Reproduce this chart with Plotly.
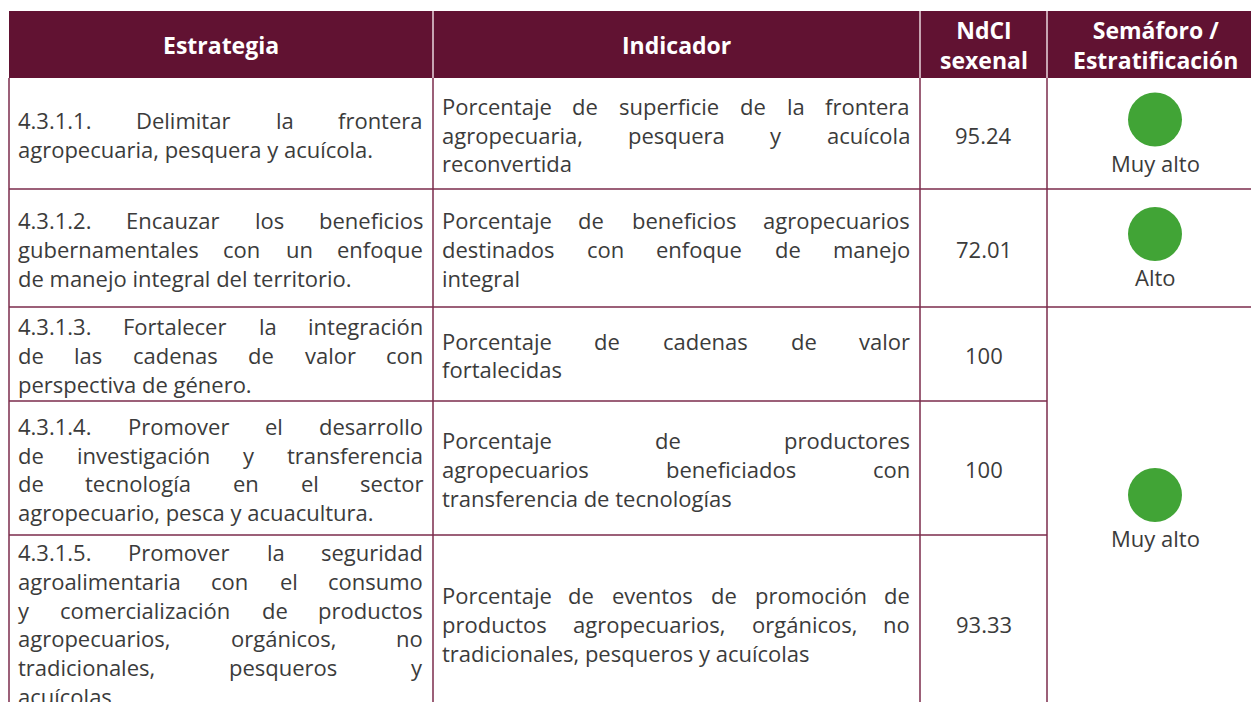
import plotly.graph_objects as go

# ---------------- data ----------------
headers = ["Estrategia", "Indicador", "NdCI<br>sexenal", "Semáforo /<br>Estratificación"]

estrategias = [
    ["4.3.1.1. Delimitar la frontera", "agropecuaria, pesquera y acuícola."],
    ["4.3.1.2. Encauzar los beneficios", "gubernamentales con un enfoque",
     "de manejo integral del territorio."],
    ["4.3.1.3. Fortalecer la integración", "de las cadenas de valor con",
     "perspectiva de género."],
    ["4.3.1.4. Promover el desarrollo", "de investigación y transferencia",
     "de tecnología en el sector", "agropecuario, pesca y acuacultura."],
    ["4.3.1.5. Promover la seguridad", "agroalimentaria con el consumo",
     "y comercialización de productos", "agropecuarios, orgánicos, no",
     "tradicionales, pesqueros y", "acuícolas."],
]

indicadores = [
    ["Porcentaje de superficie de la frontera", "agropecuaria, pesquera y acuícola",
     "reconvertida"],
    ["Porcentaje de beneficios agropecuarios", "destinados con enfoque de manejo",
     "integral"],
    ["Porcentaje de cadenas de valor", "fortalecidas"],
    ["Porcentaje de productores", "agropecuarios beneficiados con",
     "transferencia de tecnologías"],
    ["Porcentaje de eventos de promoción de", "productos agropecuarios, orgánicos, no",
     "tradicionales, pesqueros y acuícolas"],
]

ndci = [95.24, 72.01, 100, 100, 93.33]

semaforo_labels = ["Muy alto", "Alto", "Muy alto"]
semaforo_span = [1, 1, 3]  # number of rows each semáforo cell covers

# ---------------- layout / style ----------------
W, H = 1251, 702
col_edges = [9, 433, 920, 1047, 1275]
header_top, header_bottom = 11, 78
row_bounds = [78, 189, 307, 401, 535, 711]
pad = 9
line_h = 28.7

HEADER_BG = "#611232"
BORDER = "#7b2b4b"
TEXT = "#3b3b3b"
GREEN = "#41a436"
FONT = "Open Sans"
FS = 22
HFS = 23

# approximate Open Sans advance widths (em)
CW = {' ': .260, 'a': .556, 'b': .613, 'c': .476, 'd': .613, 'e': .561, 'f': .339,
      'g': .548, 'h': .614, 'i': .253, 'j': .253, 'k': .525, 'l': .253, 'm': .930,
      'n': .614, 'o': .604, 'p': .613, 'q': .613, 'r': .408, 's': .477, 't': .353,
      'u': .614, 'v': .501, 'w': .778, 'x': .524, 'y': .502, 'z': .477,
      'á': .556, 'é': .561, 'í': .253, 'ó': .604, 'ú': .614,
      '.': .266, ',': .245, '/': .367, 'P': .586, 'D': .708, 'E': .549,
      'F': .518, 'C': .631, 'A': .633, 'M': .903, 'N': .740, 'S': .536, 'I': .303}
for d in '0123456789':
    CW[d] = .572


def tw(s, size=FS):
    return sum(CW.get(ch, .55) for ch in s) * size


annotations = []
shapes = []


def add_text(x, y, text, anchor="left", color=TEXT, size=FS):
    annotations.append(dict(x=x, y=y, xref="x", yref="y", text=text, showarrow=False,
                            xanchor=anchor, yanchor="middle", borderpad=0,
                            font=dict(family=FONT, size=size, color=color)))


def add_paragraph(lines, col, r0, r1):
    left = col_edges[col] + pad - 1
    right = col_edges[col + 1] - pad
    avail = right - left
    cy = (row_bounds[r0] + row_bounds[r1]) / 2 + 1
    n = len(lines)
    for i, line in enumerate(lines):
        y = cy + (i - (n - 1) / 2) * line_h
        words = line.split(" ")
        last = (i == n - 1)
        if last or len(words) == 1:
            add_text(left, y, line, "left")
            continue
        widths = [tw(w) for w in words]
        gap = (avail - sum(widths)) / (len(words) - 1)
        cur = left
        for j, (w, wd) in enumerate(zip(words, widths)):
            if j == 0:
                add_text(left, y, w, "left")
            elif j == len(words) - 1:
                add_text(right, y, w, "right")
            else:
                add_text(cur + wd / 2, y, w, "center")
            cur += wd + gap


# header background
shapes.append(dict(type="rect", xref="x", yref="y", x0=col_edges[0], x1=col_edges[-1],
                   y0=header_top, y1=header_bottom, fillcolor=HEADER_BG, line=dict(width=0),
                   layer="below"))
# header separators (light)
for x in col_edges[1:-1]:
    shapes.append(dict(type="line", xref="x", yref="y", x0=x, x1=x, y0=header_top,
                       y1=header_bottom, line=dict(color="#e8d6dc", width=1.5)))
# header texts
for c, h in enumerate(headers):
    cx = (col_edges[c] + col_edges[c + 1]) / 2
    if c == 3:
        cx = 1155
    annotations.append(dict(x=cx, y=(header_top + header_bottom) / 2, xref="x", yref="y",
                            text="<b>" + h + "</b>", showarrow=False, xanchor="center",
                            yanchor="middle", align="center", borderpad=0,
                            font=dict(family=FONT, size=HFS, color="white")))

# vertical borders
for x in col_edges[:-1]:
    shapes.append(dict(type="line", xref="x", yref="y", x0=x, x1=x, y0=header_bottom,
                       y1=row_bounds[-1], line=dict(color=BORDER, width=1.5)))

# horizontal borders: inside merged semáforo spans, stop at column 3
merged_inner = set()
start = 0
for sp in semaforo_span:
    for k in range(start + 1, start + sp):
        merged_inner.add(k)
    start += sp
for k in range(1, len(row_bounds) - 1):
    x1 = col_edges[3] if k in merged_inner else col_edges[-1]
    shapes.append(dict(type="line", xref="x", yref="y", x0=col_edges[0], x1=x1,
                       y0=row_bounds[k], y1=row_bounds[k], line=dict(color=BORDER, width=1.5)))

# body cells
for r in range(len(estrategias)):
    add_paragraph(estrategias[r], 0, r, r + 1)
    add_paragraph(indicadores[r], 1, r, r + 1)
    cy = (row_bounds[r] + row_bounds[r + 1]) / 2 + 1
    add_text((col_edges[2] + col_edges[3]) / 2, cy, f"{ndci[r]:g}", "center")

# semáforo
sem_x, sem_y = [], []
start = 0
for lab, sp in zip(semaforo_labels, semaforo_span):
    cy = (row_bounds[start] + row_bounds[start + sp]) / 2
    sem_x.append(1155)
    sem_y.append(cy - 14)
    add_text(1155, cy + 29, lab, "center")
    start += sp

fig = go.Figure()
fig.add_trace(go.Scatter(x=sem_x, y=sem_y, mode="markers",
                         marker=dict(size=54, color=GREEN, line=dict(width=0)),
                         hoverinfo="skip", showlegend=False))

fig.update_layout(
    width=W, height=H, margin=dict(l=0, r=0, t=0, b=0),
    paper_bgcolor="white", plot_bgcolor="white",
    xaxis=dict(range=[0, W], visible=False, fixedrange=True),
    yaxis=dict(range=[H, 0], visible=False, fixedrange=True),
    shapes=shapes, annotations=annotations, showlegend=False,
)

fig.write_html("out.html", config={"displayModeBar": False},
               post_script="document.body.style.margin='0';document.body.style.overflow='hidden';")
